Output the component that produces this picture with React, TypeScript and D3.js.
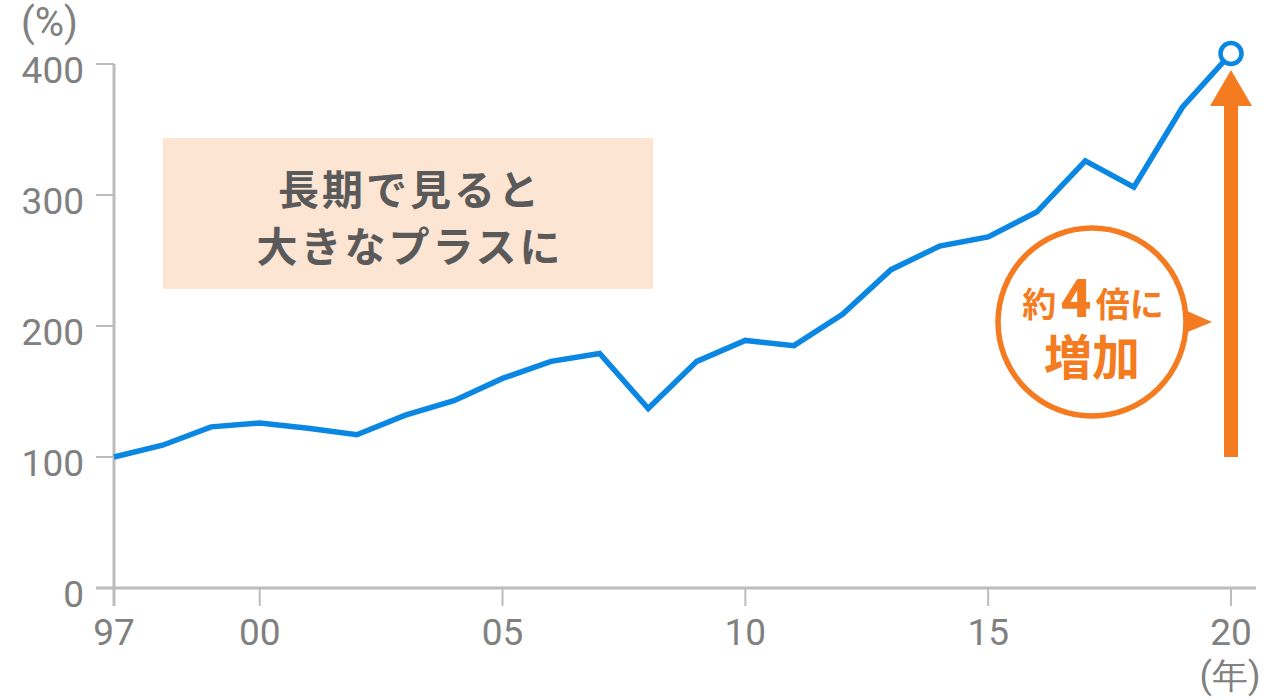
import React from "react";
import * as d3 from "d3";

const years = [1997, 1998, 1999, 2000, 2001, 2002, 2003, 2004, 2005, 2006, 2007, 2008, 2009, 2010, 2011, 2012, 2013, 2014, 2015, 2016, 2017, 2018, 2019, 2020];
const values = [100, 109, 123, 126, 122, 117, 132, 143, 160, 173, 179, 137, 173, 189, 185, 209, 243, 261, 268, 287, 326, 306, 367, 408];
const yTicks = [0, 100, 200, 300, 400];
const xTickYears = [1997, 2000, 2005, 2010, 2015, 2020];
const xTickLabels = ["97", "00", "05", "10", "15", "20"];
const boxLines = ["長期で見ると", "大きなプラスに"];

const W = 1280;
const H = 700;

export default function App() {
  const x = d3.scaleLinear().domain([1997, 2020]).range([114, 1231]);
  const y = d3.scaleLinear().domain([0, 400]).range([588, 64]);
  const line = d3
    .line<number>()
    .x((_, i) => x(years[i]))
    .y((d) => y(d));

  const gray = "#808080";
  const axisC = "#bcbcbc";
  const blue = "#0A86E3";
  const orange = "#F47B20";
  const num = "Roboto, 'Noto Sans', sans-serif";
  const jp = "'Noto Sans CJK JP', sans-serif";

  const lastX = x(2020);
  const lastY = y(values[values.length - 1]);
  const arrowBottom = y(100);

  const cx = 1092;
  const cy = 322;
  const r = 94;

  return (
    <svg width={W} height={H} style={{ position: "absolute", left: 0, top: 0 }}>
      <rect x={0} y={0} width={W} height={H} fill="#fff" />
      {/* annotation box */}
      <rect x={163} y={138} width={490} height={151} fill="#FDE5D4" />
      {boxLines.map((t, i) => (
        <text
          key={i}
          x={410}
          y={205 + i * 57}
          textAnchor="middle"
          fontFamily={jp}
          fontWeight={700}
          fontSize={41}
          fill="#5a5a5a"
          letterSpacing={3}
        >
          {t}
        </text>
      ))}

      {/* axes */}
      <line x1={114} x2={114} y1={y(400)} y2={606} stroke={axisC} strokeWidth={3} />
      <line x1={96} x2={1256} y1={y(0)} y2={y(0)} stroke={axisC} strokeWidth={3} />
      {yTicks.map((t) => (
        <g key={t}>
          <line x1={96} x2={114} y1={y(t)} y2={y(t)} stroke={axisC} strokeWidth={2} />
          <text x={84} y={y(t) + 19} textAnchor="end" fontFamily={num} fontSize={37} fill={gray}>
            {t}
          </text>
        </g>
      ))}
      {xTickYears.map((t, i) => (
        <g key={t}>
          <line x1={x(t)} x2={x(t)} y1={y(0)} y2={606} stroke={axisC} strokeWidth={2} />
          <text x={x(t)} y={645} textAnchor="middle" fontFamily={num} fontSize={37} fill={gray}>
            {xTickLabels[i]}
          </text>
        </g>
      ))}
      <text x={21} y={36} fontFamily={num} fontSize={40} fill={gray}>
        (%)
      </text>
      <text x={1230} y={688} textAnchor="middle" fontFamily={num} fontSize={36} fill={gray}>
        (年)
      </text>

      {/* arrow */}
      <rect x={lastX - 7} y={104} width={14} height={arrowBottom - 104} fill={orange} />
      <path d={`M${lastX - 21},106 L${lastX + 21},106 L${lastX},70 Z`} fill={orange} />

      {/* bubble */}
      <path d={`M${cx + r - 8},${cy - 15} L1212,${cy} L${cx + r - 8},${cy + 14} Z`} fill={orange} />
      <circle cx={cx} cy={cy} r={r} fill="#fff" stroke={orange} strokeWidth={5.5} />
      <text x={cx + 1} y={317} textAnchor="middle" fontFamily={jp} fontWeight={700} fill={orange}>
        <tspan fontSize={34}>約</tspan>
        <tspan fontSize={54} fontFamily={num} fontWeight={900} dx={4}>4</tspan>
        <tspan fontSize={34} dx={4}>倍に</tspan>
      </text>
      <text x={cx} y={375} textAnchor="middle" fontFamily={jp} fontWeight={700} fontSize={48} fill={orange}>
        増加
      </text>

      {/* line */}
      <path d={line(values) || ""} fill="none" stroke={blue} strokeWidth={5.5} strokeLinejoin="miter" />
      <circle cx={lastX} cy={lastY} r={10.5} fill="#fff" stroke={blue} strokeWidth={4.5} />
    </svg>
  );
}
